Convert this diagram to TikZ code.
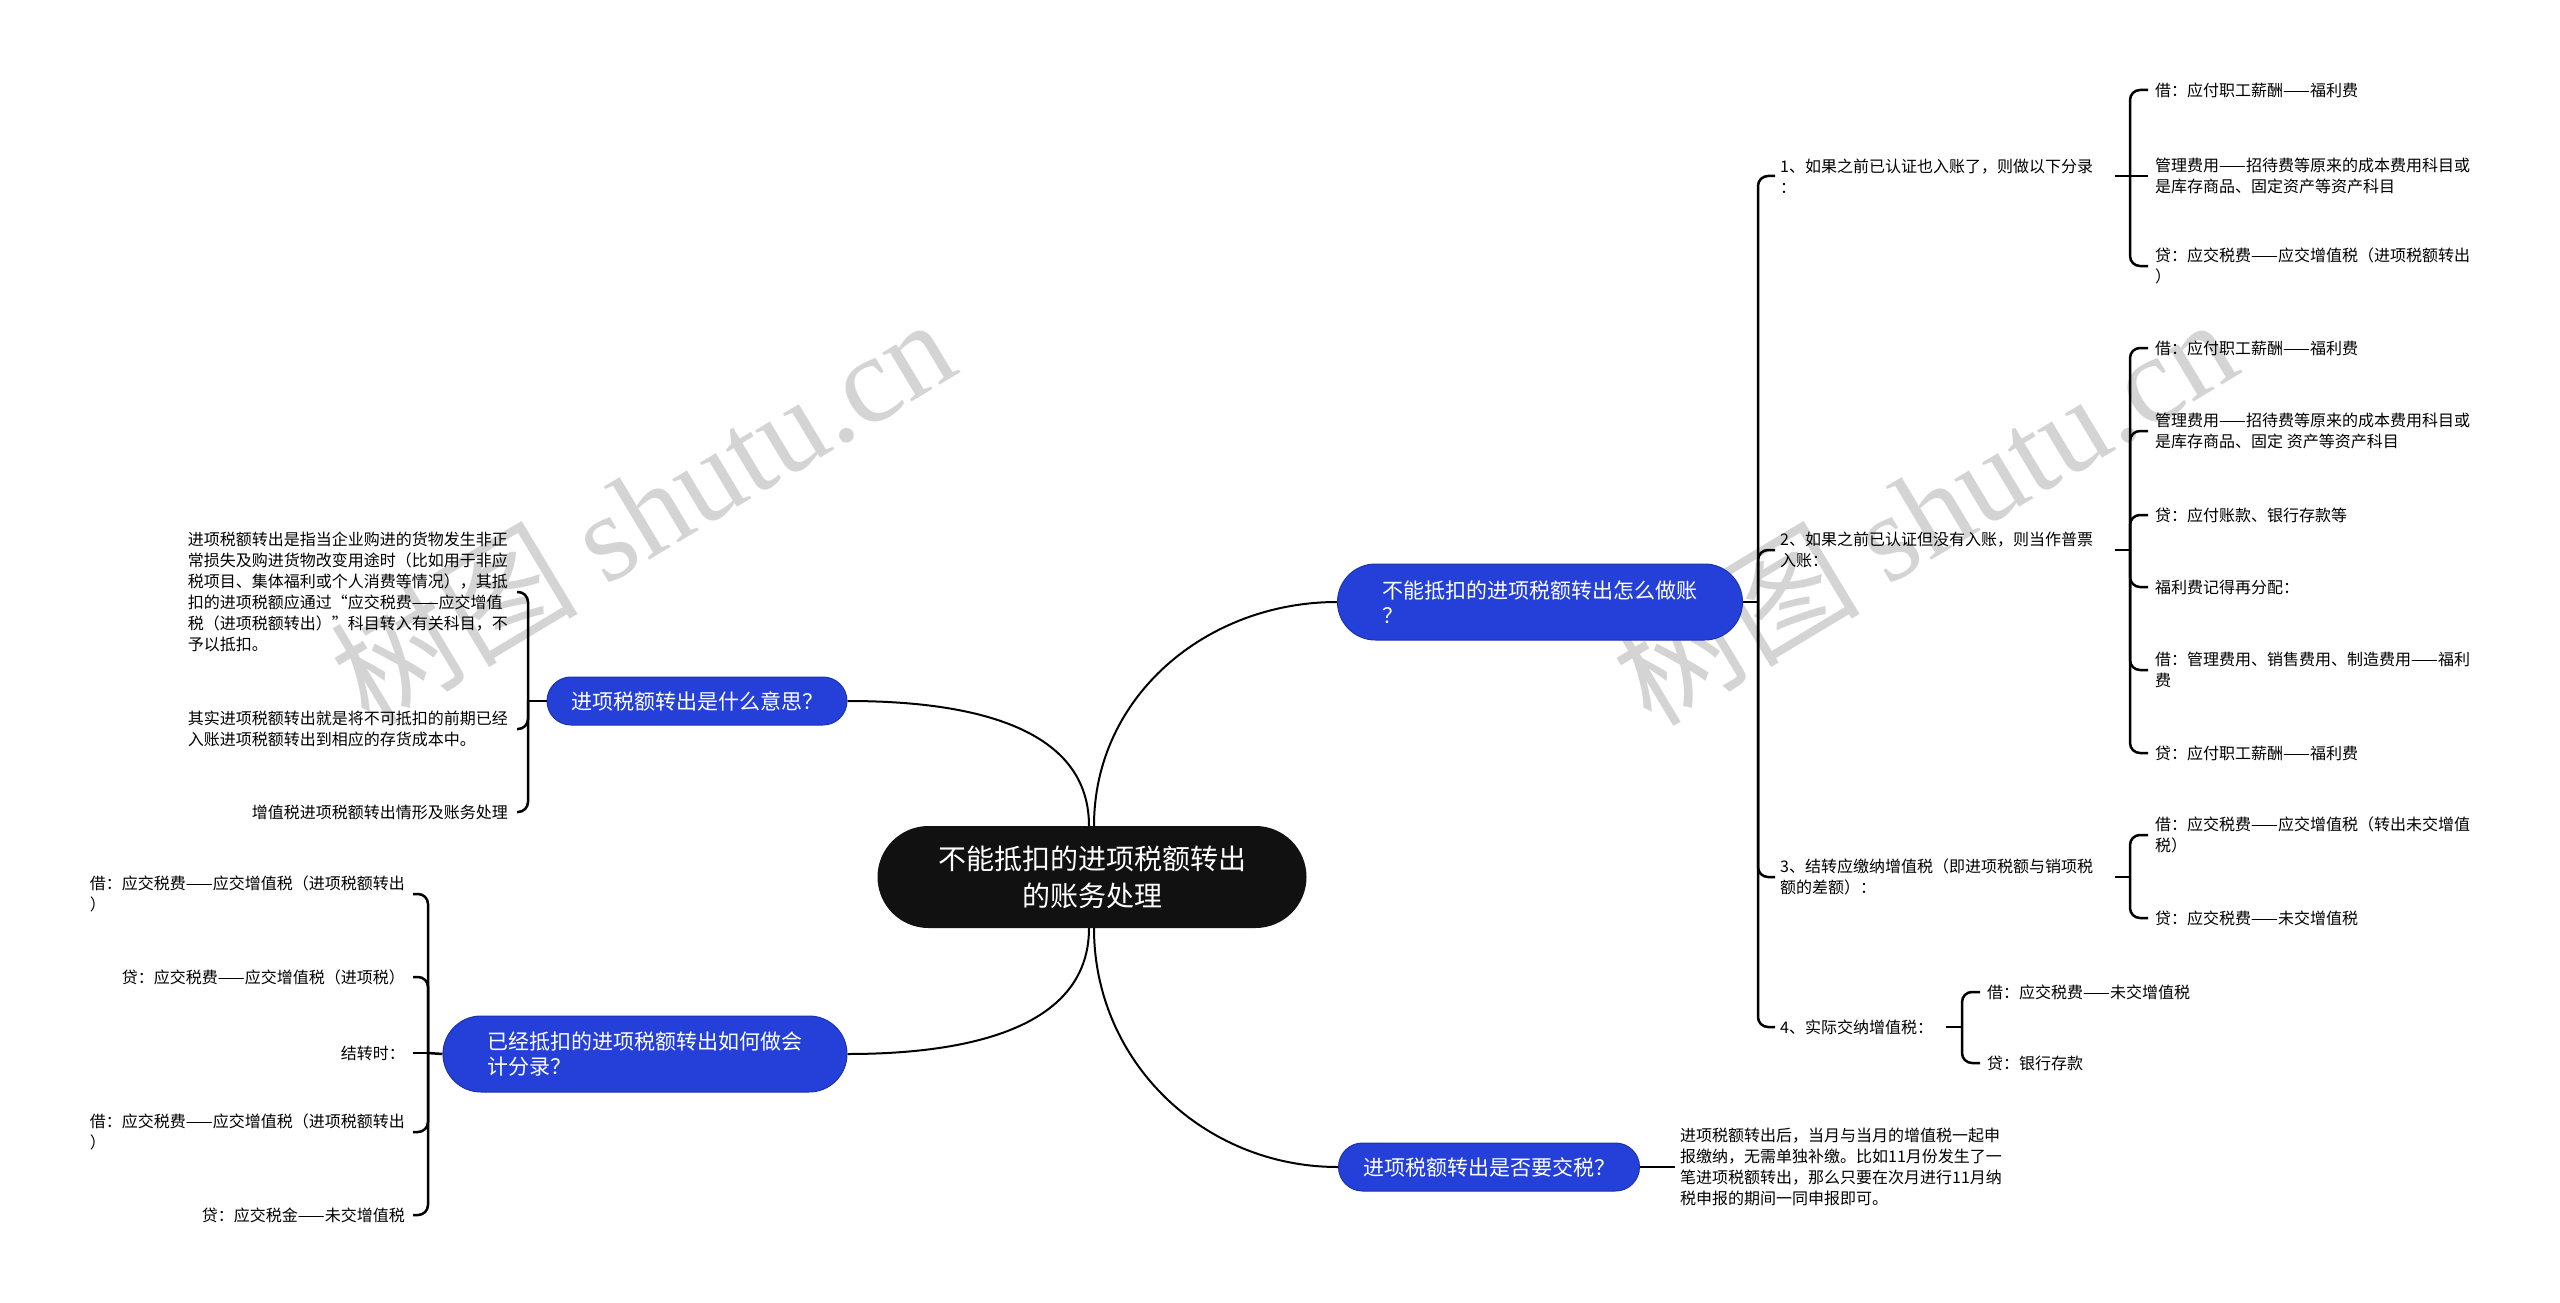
\documentclass[tikz,border=0pt]{standalone}
\usepackage{fontspec}
\setmainfont{Noto Sans CJK SC}
\newfontfamily\wmlatin{Liberation Serif}
\definecolor{nodeblue}{RGB}{36,64,217}
\definecolor{rootblack}{RGB}{17,17,17}
\definecolor{wmgray}{RGB}{212,212,212}
\begin{document}
\begin{tikzpicture}[x=1pt,y=-1pt,
  conn/.style={line width=2pt},
  brk/.style={line width=2.5pt, rounded corners=10pt},
  leaf/.style={inner sep=0pt, align=left, anchor=west, font=\fontsize{16}{21}\selectfont},
  leafr/.style={leaf, anchor=east},
  pill/.style={fill=nodeblue, draw=nodeblue!80!black, line width=1pt, text=white, inner sep=0pt, align=left, font=\fontsize{21}{25.5}\selectfont},
  root/.style={fill=rootblack, text=white, inner sep=0pt, align=center, minimum width=429pt, minimum height=102pt, rounded corners=51pt, font=\fontsize{28}{37}\selectfont},
  wm/.style={text=wmgray, inner sep=0pt, rotate=31, font=\fontsize{124}{124}\selectfont}
]
\useasboundingbox (0,0) rectangle (2560,1303);

% watermarks
\node[wm] (wm1) at (642,510) {树图 {\wmlatin shutu.cn}};
\node[wm] (wm2) at (1924,510) {树图 {\wmlatin shutu.cn}};

% main nodes
\node[root] (c) at (1092,877) {不能抵扣的进项税额转出\\的账务处理};
\node[pill, minimum width=405pt, minimum height=76pt, rounded corners=38pt] (n1) at (1540,602) {不能抵扣的进项税额转出怎么做账\\？};
\node[pill, minimum width=300pt, minimum height=48pt, rounded corners=24pt] (n2) at (697,701) {进项税额转出是什么意思？};
\node[pill, minimum width=404pt, minimum height=76pt, rounded corners=38pt] (n3) at (645,1054) {已经抵扣的进项税额转出如何做会\\计分录？};
\node[pill, minimum width=301pt, minimum height=48pt, rounded corners=24pt] (n4) at (1489,1167) {进项税额转出是否要交税？};

% right items
\node[leaf] (i1) at (1780,176) {1、如果之前已认证也入账了，则做以下分录\\：};
\node[leaf] (i2) at (1780,550) {2、如果之前已认证但没有入账，则当作普票\\入账：};
\node[leaf] (i3) at (1780,877) {3、结转应缴纳增值税（即进项税额与销项税\\额的差额）：};
\node[leaf] (i4) at (1780,1027) {4、实际交纳增值税：};

% item 1 leaves
\node[leaf] (a1) at (2155,90) {借：应付职工薪酬——福利费};
\node[leaf] (a2) at (2155,176) {管理费用——招待费等原来的成本费用科目或\\是库存商品、固定资产等资产科目};
\node[leaf] (a3) at (2155,266) {贷：应交税费——应交增值税（进项税额转出\\）};
% item 2 leaves
\node[leaf] (b1) at (2155,348) {借：应付职工薪酬——福利费};
\node[leaf] (b2) at (2155,431) {管理费用——招待费等原来的成本费用科目或\\是库存商品、固定 资产等资产科目};
\node[leaf] (b3) at (2155,515) {贷：应付账款、银行存款等};
\node[leaf] (b4) at (2155,587) {福利费记得再分配：};
\node[leaf] (b5) at (2155,670) {借：管理费用、销售费用、制造费用——福利\\费};
\node[leaf] (b6) at (2155,753) {贷：应付职工薪酬——福利费};
% item 3 leaves
\node[leaf] (c1) at (2155,835) {借：应交税费——应交增值税（转出未交增值\\税）};
\node[leaf] (c2) at (2155,918) {贷：应交税费——未交增值税};
% item 4 leaves
\node[leaf] (d1) at (1987,992) {借：应交税费——未交增值税};
\node[leaf] (d2) at (1987,1063) {贷：银行存款};

% node 4 text
\node[leaf] (t4) at (1680,1167) {进项税额转出后，当月与当月的增值税一起申\\报缴纳，无需单独补缴。比如11月份发生了一\\笔进项税额转出，那么只要在次月进行11月纳\\税申报的期间一同申报即可。};

% left leaves of n2
\node[leafr] (p1) at (508,592) {进项税额转出是指当企业购进的货物发生非正\\常损失及购进货物改变用途时（比如用于非应\\税项目、集体福利或个人消费等情况），其抵\\扣的进项税额应通过“应交税费——应交增值\\税（进项税额转出）”科目转入有关科目，不\\予以抵扣。};
\node[leafr] (p2) at (508,729) {其实进项税额转出就是将不可抵扣的前期已经\\入账进项税额转出到相应的存货成本中。};
\node[leafr] (p3) at (508,812) {增值税进项税额转出情形及账务处理};

% left leaves of n3
\node[leafr] (q1) at (405,894) {借：应交税费——应交增值税（进项税额转出\\）};
\node[leafr] (q2) at (405,977) {贷：应交税费——应交增值税（进项税）};
\node[leafr] (q3) at (405,1053) {结转时：};
\node[leafr] (q4) at (405,1132) {借：应交税费——应交增值税（进项税额转出\\）};
\node[leafr] (q5) at (405,1215) {贷：应交税金——未交增值税};

% main curves
\draw[conn] ([xshift=2pt]c.north) .. controls +(0,-130) and +(-130,0) .. (n1.west);
\draw[conn] ([xshift=-3pt]c.north) .. controls +(0,-106) and +(106,0) .. (n2.east);
\draw[conn] ([xshift=-3pt]c.south) .. controls +(0,106) and +(106,0) .. (n3.east);
\draw[conn] ([xshift=2pt]c.south) .. controls +(0,134) and +(-134,0) .. (n4.west);

% right main bracket
\coordinate (rb) at (1758,602);
\draw[brk] (n1.east) -- (rb);
\foreach \t in {i1,i2,i3,i4} \draw[brk] (rb) |- ([xshift=-5pt]\t.west);

% item 1 bracket
\coordinate (s1) at (2115,176); \coordinate (v1) at (2130,176);
\draw[brk] (s1) -- (v1);
\draw[brk] (v1) |- ([xshift=-7pt]a1.west);
\draw[brk] (v1) -- ([xshift=-7pt]a2.west);
\draw[brk] (v1) |- ([xshift=-7pt]a3.west);
% item 2 bracket
\coordinate (s2) at (2115,550); \coordinate (v2) at (2130,550);
\draw[brk] (s2) -- (v2);
\foreach \t in {b1,b2,b3,b4,b5,b6} \draw[brk] (v2) |- ([xshift=-7pt]\t.west);
% item 3 bracket
\coordinate (s3) at (2115,877); \coordinate (v3) at (2130,877);
\draw[brk] (s3) -- (v3);
\foreach \t in {c1,c2} \draw[brk] (v3) |- ([xshift=-7pt]\t.west);
% item 4 bracket
\coordinate (s4) at (1946,1027); \coordinate (v4) at (1962,1027);
\draw[brk] (s4) -- (v4);
\foreach \t in {d1,d2} \draw[brk] (v4) |- ([xshift=-7pt]\t.west);

% node 4 link
\draw[brk] (n4.east) -- ([xshift=-5pt]t4.west);

% n2 bracket
\coordinate (lb2) at (528,701);
\draw[brk] (n2.west) -- (lb2);
\foreach \t in {p1,p2,p3} \draw[brk] (lb2) |- ([xshift=9pt]\t.east);

% n3 bracket
\coordinate (lb3) at (428,1053);
\draw[brk] (n3.west) -- (lb3);
\draw[brk] (lb3) -- ([xshift=8pt]q3.east);
\foreach \t in {q1,q2,q4,q5} \draw[brk] (lb3) |- ([xshift=8pt]\t.east);
\end{tikzpicture}
\end{document}
